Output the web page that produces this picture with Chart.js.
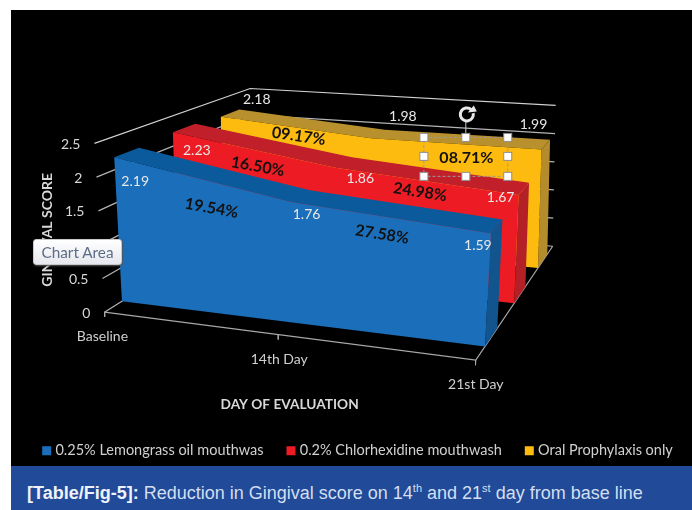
<!DOCTYPE html>
<html>
<head>
<meta charset="utf-8">
<script src="https://cdn.jsdelivr.net/npm/chart.js@4"></script>
<style>
html,body{margin:0;padding:0;background:#fff;width:692px;height:510px;overflow:hidden}
#black{position:absolute;left:11px;top:10px;width:681px;height:460px;background:#000}
#wrap{position:absolute;left:13px;top:10px;width:679px;height:460px;overflow:hidden}
#caption{position:absolute;left:11px;top:466px;width:681px;height:44px;background:#214a98;color:#d3dff1;
 font:18px/54px "Liberation Sans",Arial,sans-serif;padding-left:16px;box-sizing:border-box;white-space:nowrap;overflow:hidden}
#caption b{color:#eef3fb}
#caption sup{font-size:11px;line-height:0;vertical-align:7px}
#tip{position:absolute;left:33px;top:239px;width:89px;height:26px;box-sizing:border-box;border:1px solid #c8c8c8;border-radius:3px;
 background:linear-gradient(#ffffff,#e6e8ee);color:#5d6c85;font:15.3px/24px Lato,sans-serif;text-align:center;box-shadow:1px 1px 2px #555}
</style>
</head>
<body>
<div id="black"></div>
<div id="wrap"><canvas id="c" width="692" height="458"></canvas></div>
<div id="tip">Chart Area</div>
<div id="caption"><b>[Table/Fig-5]:</b> Reduction in Gingival score on 14<sup>th</sup> and 21<sup>st</sup> day from base line</div>
<script>
// ---- data ----
const categories = ['Baseline', '14th Day', '21st Day'];
const seriesNames = ['0.25% Lemongrass oil mouthwas', '0.2% Chlorhexidine mouthwash', 'Oral Prophylaxis only'];
const lemongrass = [2.19, 1.76, 1.59];
const chlorhexidine = [2.23, 1.86, 1.67];
const prophylaxis = [2.18, 1.98, 1.99];
const lemongrassReduction = ['19.54%', '27.58%'];
const chlorhexidineReduction = ['16.50%', '24.98%'];
const prophylaxisReduction = ['09.17%', '08.71%'];
const valueTicks = [0, 0.5, 1, 1.5, 2, 2.5];
const valueTickLabels = ['0', '0.5', '1', '1.5', '2', '2.5'];
const yTitle = 'GINGIVAL SCORE';
const xTitle = 'DAY OF EVALUATION';

// ---- 3-D view of the plot box (page pixels of its corners) ----
const VIEW = {
  maxValue: 2.5, lastDay: 2, warp: 1.137,
  fb0: [104, 312], fb1: [476, 360], bb0: [250, 220], bb1: [553, 246],
  ft0: [94, 143], ft1: [486, 177], bt0: [250, 88], bt1: [556, 105]
};
function lerp(a, b, t) { return [a[0] + (b[0] - a[0]) * t, a[1] + (b[1] - a[1]) * t]; }
function project(day, value, depth) {
  const t = day / VIEW.lastDay;
  const u = t / (t + (1 - t) * VIEW.warp);
  const v = value / VIEW.maxValue;
  const fb = lerp(VIEW.fb0, VIEW.fb1, u), bb = lerp(VIEW.bb0, VIEW.bb1, u);
  const ft = lerp(VIEW.ft0, VIEW.ft1, u), bt = lerp(VIEW.bt0, VIEW.bt1, u);
  const p = lerp(lerp(fb, bb, depth), lerp(ft, bt, depth), v);
  return { x: p[0], y: p[1] };
}

const STYLE = [
  { values: lemongrass, reduction: lemongrassReduction, z0: 0.12, z1: 0.28, front: '#1b6fba', top: '#0b5a9c', side: '#11548e',
    layer: 10, valueOff: [[21, 24], [15, 12], [-13, 12]], gainOff: [[11, 29], [-6, 17]], gainRot: [10, 9] },
  { values: chlorhexidine, reduction: chlorhexidineReduction, z0: 0.50, z1: 0.645, front: '#ed1c24', top: '#c1202a', side: '#b32026',
    layer: 20, valueOff: [[24, 18], [25, 11], [-18, 2]], gainOff: [[6, 17], [-4, 11]], gainRot: [10, 9] },
  { values: prophylaxis, reduction: prophylaxisReduction, z0: 0.81, z1: 0.93, front: '#fdbb0f', top: '#b8902e', side: '#b58c2c',
    layer: 30, valueOff: [[36, -17], [32, -22], [-8, -25]], gainOff: [[5, 9], [13, 14]], gainRot: [8, 0] }
];

function face(points, color, layer, label) {
  return { label: label || '', data: points, showLine: true, fill: 'shape', backgroundColor: color, borderColor: color,
    borderWidth: 0, pointRadius: 0, pointStyle: 'rect', tension: 0, order: layer, inLegend: !!label };
}
function rule(points, color, width) {
  return { label: '', data: points, showLine: true, fill: false, borderColor: color, backgroundColor: color,
    borderWidth: width, pointRadius: 0, tension: 0, order: 100, inLegend: false };
}

const datasets = [];
// front faces first so that the legend reads in series order
STYLE.forEach((s, k) => {
  const front = s.values.map((v, i) => project(i, v, s.z0));
  front.push(project(2, 0, s.z0), project(0, 0, s.z0));
  datasets.push(face(front, s.front, s.layer, seriesNames[k]));
});
STYLE.forEach(s => {
  const top = s.values.map((v, i) => project(i, v, s.z0));
  for (let i = s.values.length - 1; i >= 0; i--) top.push(project(i, s.values[i], s.z1));
  datasets.push(face(top, s.top, s.layer + 1));
  const last = s.values.length - 1, lv = s.values[last];
  datasets.push(face([project(last, lv, s.z0), project(last, lv, s.z1), project(last, 0, s.z1), project(last, 0, s.z0)], s.side, s.layer + 1));
});
// walls, floor and tick stubs
valueTicks.forEach(t => {
  const col = t === 2.5 ? '#d0d0d0' : '#b4b4b4';
  datasets.push(rule([project(0, t, 0), project(0, t, 1), project(2, t, 1)], col, 1.2));
});
datasets.push(rule([project(0, 0, 0), project(2, 0, 0), project(2, 0, 1)], '#a8a8a8', 1.2));
categories.forEach((c, i) => datasets.push(rule([project(i, 0, 0), project(i, -0.07, 0)], '#a8a8a8', 1)));

const FONT = 'Lato, sans-serif';
const categoryShift = [-2, 1, 0];
const textPlugin = {
  id: 'texts',
  afterDatasetsDraw(chart) {
    const ctx = chart.ctx;
    const X = v => chart.scales.x.getPixelForValue(v), Y = v => chart.scales.y.getPixelForValue(v);
    function text(str, px, py, font, color, rot, align) {
      ctx.save();
      ctx.translate(X(px), Y(py));
      ctx.rotate((rot || 0) * Math.PI / 180);
      ctx.font = font; ctx.fillStyle = color; ctx.textAlign = align || 'center'; ctx.textBaseline = 'middle';
      ctx.fillText(str, 0, 0);
      ctx.restore();
    }
    // value tick labels
    valueTicks.forEach((t, i) => {
      const p = project(0, t, 0);
      text(valueTickLabels[i], p.x - 14, p.y + 1, '14px ' + FONT, '#d8d8d8', 0, 'right');
    });
    // category labels
    categories.forEach((c, i) => {
      const p = project(i, 0, 0);
      text(c, p.x + categoryShift[i], p.y + 24.5, '14px ' + FONT, '#d0d0d0');
    });
    text(xTitle, 289.5, 405, 'bold 13.7px ' + FONT, '#d8d8d8');
    text(yTitle, 47, 229.5, 'bold 14px ' + FONT, '#d8d8d8', -90);
    // value and reduction labels
    STYLE.forEach(s => {
      s.values.forEach((v, i) => {
        const p = project(i, v, s.z0);
        text(v.toFixed(2), p.x + s.valueOff[i][0], p.y + s.valueOff[i][1], '14px ' + FONT, '#e8e8e8');
      });
      s.reduction.forEach((r, i) => {
        const p = project(i + 0.5, (s.values[i] + s.values[i + 1]) / 2, s.z0);
        text(r, p.x + s.gainOff[i][0], p.y + s.gainOff[i][1], 'bold 16px ' + FONT, '#111', s.gainRot[i]);
      });
    });
    // selection frame around the last text box
    const L = X(424), M = X(466), R = X(508), T = Y(137), C = Y(156), B = Y(176);
    ctx.save();
    ctx.strokeStyle = '#9a9a9a'; ctx.lineWidth = 1; ctx.setLineDash([3, 2]);
    ctx.strokeRect(L, T, R - L, B - T);
    ctx.setLineDash([]);
    ctx.strokeStyle = '#c8c8c8'; ctx.beginPath(); ctx.moveTo(M, T); ctx.lineTo(M, Y(121)); ctx.stroke();
    [[L, T], [M, T], [R, T], [L, C], [R, C], [L, B], [M, B], [R, B]].forEach(h => {
      ctx.fillStyle = '#fff'; ctx.strokeStyle = '#8f8f8f';
      ctx.fillRect(h[0] - 4, h[1] - 4, 8, 8); ctx.strokeRect(h[0] - 4, h[1] - 4, 8, 8);
    });
    ctx.strokeStyle = '#e8e8e8'; ctx.lineWidth = 3;
    ctx.beginPath(); ctx.arc(X(467), Y(114), 6.5, -0.2, Math.PI * 1.75); ctx.stroke();
    ctx.fillStyle = '#e8e8e8'; ctx.beginPath();
    ctx.moveTo(X(477), Y(111)); ctx.lineTo(X(468), Y(112)); ctx.lineTo(X(474), Y(105)); ctx.closePath(); ctx.fill();
    ctx.restore();
  }
};

const chart = new Chart(document.getElementById('c'), {
  type: 'scatter',
  data: { datasets },
  options: {
    responsive: false, animation: false, events: [],
    layout: { padding: 0 },
    scales: {
      x: { type: 'linear', display: false, min: 13, max: 705 },
      y: { type: 'linear', display: false, reverse: true, min: 10, max: 468 }
    },
    plugins: {
      tooltip: { enabled: false },
      title: { display: false },
      legend: {
        display: true, position: 'bottom',
        labels: { usePointStyle: true, boxWidth: 3, boxHeight: 9, padding: 26, color: '#d0d0d0', font: { family: 'Lato', size: 14.5 },
          filter: (item, data) => data.datasets[item.datasetIndex].inLegend }
      }
    }
  },
  plugins: [textPlugin]
});
// make the hidden scales read in page pixels once the legend has taken its room
chart.options.scales.y.max = 10 + chart.chartArea.height;
chart.update('none');
</script>
</body>
</html>
